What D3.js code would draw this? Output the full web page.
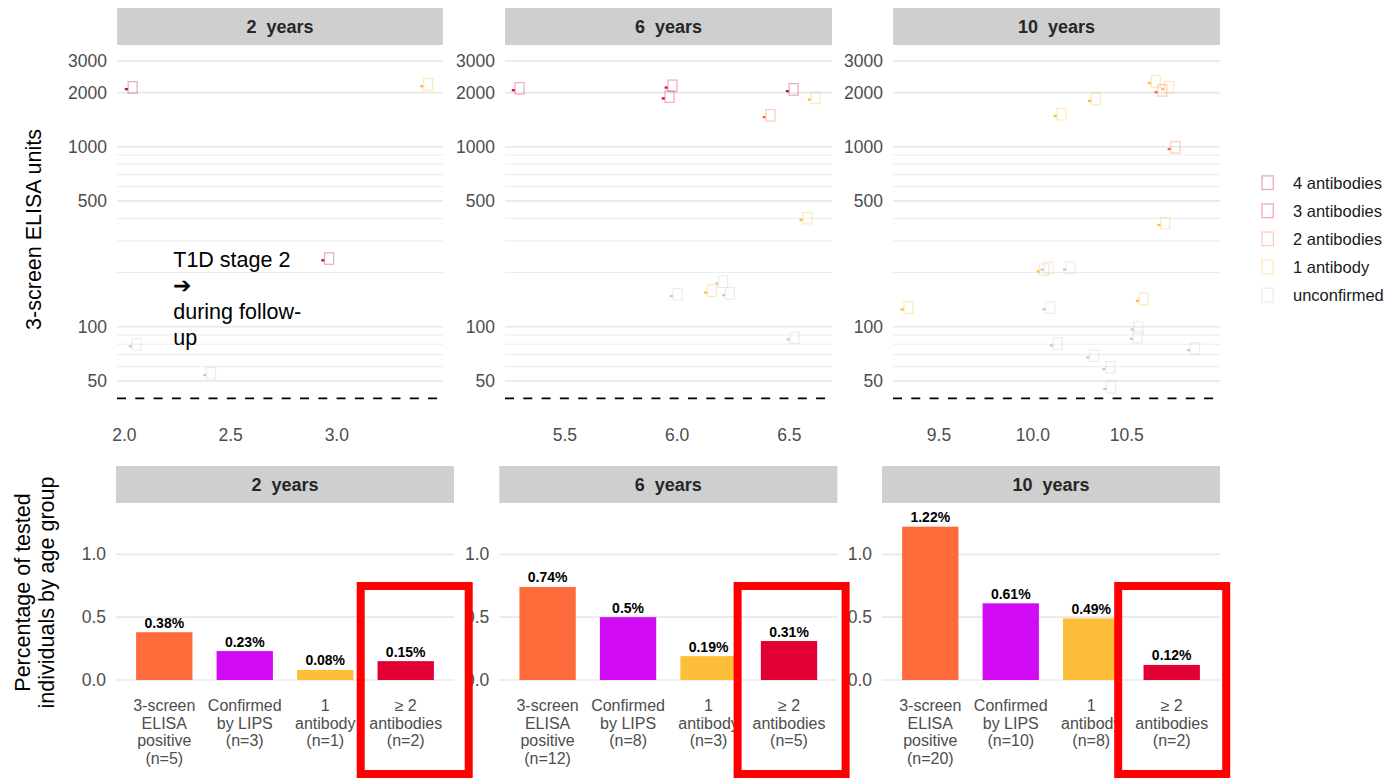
<!DOCTYPE html>
<html>
<head>
<meta charset="utf-8">
<script src="https://cdn.jsdelivr.net/npm/d3@7"></script>
<style>
  html, body { margin: 0; padding: 0; background: #fff; }
  svg { display: block; font-family: "Liberation Sans", Arial, sans-serif; }
</style>
</head>
<body>
<svg id="chart" width="1387" height="779"></svg>
<script>
// ---- Data -------------------------------------------------------------
const ageGroups = ["2  years", "6  years", "10  years"];

// 3-screen ELISA positives: age at sampling, ELISA units, confirmation group
const age2y   = [2.009, 2.028, 2.378, 2.934, 3.40];
const elisa2y = [2090, 78, 54, 234, 2170];
const group2y = ["4 antibodies", "unconfirmed", "unconfirmed", "4 antibodies", "1 antibody"];

const age6y   = [5.27, 5.951, 5.938, 6.491, 6.589, 6.388, 6.552, 5.974, 6.127, 6.177, 6.207, 6.495];
const elisa6y = [2062, 2131, 1857, 2036, 1829, 1461, 392, 148, 155, 174, 150, 85];
const group6y = ["3 antibodies", "3 antibodies", "3 antibodies", "4 antibodies", "1 antibody", "2 antibodies",
                 "1 antibody", "unconfirmed", "1 antibody", "unconfirmed", "unconfirmed", "unconfirmed"];

const age10y   = [9.304, 10.119, 10.302, 10.621, 10.656, 10.692, 10.726, 10.672, 10.027, 10.05,
                  10.168, 10.557, 10.059, 10.529, 10.525, 10.099, 10.83, 10.293, 10.378, 10.383];
const elisa10y = [125, 1484, 1800, 2255, 2010, 2096, 971, 368, 203, 208,
                  208, 139.5, 125, 96.7, 85.8, 78.8, 74.2, 67.6, 58.2, 45.2];
const group10y = ["1 antibody", "1 antibody", "1 antibody", "1 antibody", "2 antibodies", "1 antibody",
                  "2 antibodies", "1 antibody", "1 antibody", "unconfirmed", "unconfirmed", "1 antibody",
                  "unconfirmed", "unconfirmed", "unconfirmed", "unconfirmed", "unconfirmed", "unconfirmed",
                  "unconfirmed", "unconfirmed"];

const elisaThreshold = 40;
const ageTicks = [[2.0, 2.5, 3.0], [5.5, 6.0, 6.5], [9.5, 10.0, 10.5]];
const ageDomains = [[1.965, 3.50], [5.233, 6.69], [9.255, 10.997]];
const elisaTicks = [50, 100, 500, 1000, 2000, 3000];
const elisaMinor = [60, 70, 80, 90, 200, 300, 400, 600, 700, 800, 900];

const antibodyGroups = ["4 antibodies", "3 antibodies", "2 antibodies", "1 antibody", "unconfirmed"];
const antibodyColors = ["#B3123F", "#E8003D", "#FF6B3B", "#FDBF3A", "#C8C8C8"];

// Percentages of tested individuals per age group
const categories = ["3-screen ELISA positive", "Confirmed by LIPS", "1 antibody", "\u2265 2 antibodies"];
const categoryLines = [["3-screen", "ELISA", "positive"], ["Confirmed", "by LIPS"], ["1", "antibody"], ["\u2265 2", "antibodies"]];
const pct2y  = [0.38, 0.23, 0.08, 0.15];
const pct6y  = [0.74, 0.5, 0.19, 0.31];
const pct10y = [1.22, 0.61, 0.49, 0.12];
const n2y  = [5, 3, 1, 2];
const n6y  = [12, 8, 3, 5];
const n10y = [20, 10, 8, 2];
const barColors = ["#FF6B3B", "#D10CF5", "#FDBF3A", "#E00034"];
const pctTicks = [0, 0.5, 1.0];

// ---- Layout -----------------------------------------------------------
const svg = d3.select("#chart");
const topPanels = [[117, 443], [505, 832], [893, 1220]];
const botPanels = [[116, 454], [499.3, 837.3], [882, 1220]];
const topY = [45, 406], topStrip = [8, 45];
const botY = [503, 688], botStrip = [466, 503];
const tickFont = 17.5, tickColor = "#4d4d4d";

const color = d3.scaleOrdinal().domain(antibodyGroups).range(antibodyColors);
const yLog = d3.scaleLog().domain([36.3, 3673]).range([topY[1], topY[0]]);
const yPct = d3.scaleLinear().domain([-0.0636, 1.408]).range([botY[1], botY[0]]);

const scatterData = [
  d3.zip(age2y, elisa2y, group2y),
  d3.zip(age6y, elisa6y, group6y),
  d3.zip(age10y, elisa10y, group10y)
];
const barData = [[pct2y, n2y], [pct6y, n6y], [pct10y, n10y]];

function strip(x0, x1, y0, y1, label) {
  svg.append("rect").attr("x", x0).attr("y", y0).attr("width", x1 - x0).attr("height", y1 - y0)
    .attr("fill", "#cfcfcf");
  svg.append("text").attr("x", (x0 + x1) / 2).attr("y", (y0 + y1) / 2)
    .attr("text-anchor", "middle").attr("dominant-baseline", "central")
    .style("white-space", "pre")
    .attr("font-size", 18).attr("font-weight", "bold").attr("fill", "#262626")
    .text(label);
}

// ---- Top row: ELISA units by age -------------------------------------
topPanels.forEach(([x0, x1], i) => {
  strip(x0, x1, topStrip[0], topStrip[1], ageGroups[i]);
  const x = d3.scaleLinear().domain(ageDomains[i]).range([x0, x1]);
  const g = svg.append("g");

  g.selectAll("line.minor").data(elisaMinor).join("line")
    .attr("x1", x0).attr("x2", x1).attr("y1", d => yLog(d)).attr("y2", d => yLog(d))
    .attr("stroke", "#ebebeb").attr("stroke-width", 1);
  g.selectAll("line.major").data(elisaTicks).join("line")
    .attr("x1", x0).attr("x2", x1).attr("y1", d => yLog(d)).attr("y2", d => yLog(d))
    .attr("stroke", "#e8e8e8").attr("stroke-width", 1.7);

  g.selectAll("text.yt").data(elisaTicks).join("text")
    .attr("x", x0 - 10).attr("y", d => yLog(d)).attr("text-anchor", "end")
    .attr("dominant-baseline", "central").attr("font-size", tickFont).attr("fill", tickColor)
    .text(d => d);
  g.selectAll("text.xt").data(ageTicks[i]).join("text")
    .attr("x", d => x(d)).attr("y", 435).attr("text-anchor", "middle")
    .attr("dominant-baseline", "central").attr("font-size", tickFont).attr("fill", tickColor)
    .text(d => d.toFixed(1));

  g.append("line").attr("x1", x0).attr("x2", x1)
    .attr("y1", yLog(elisaThreshold)).attr("y2", yLog(elisaThreshold))
    .attr("stroke", "#000").attr("stroke-width", 1.8).attr("stroke-dasharray", "9,9.3");

  const pts = scatterData[i];
  g.selectAll("rect.dot").data(pts).join("rect")
    .attr("x", d => x(d[0]) - 1.5).attr("y", d => yLog(d[1]) - 1.1)
    .attr("width", 3).attr("height", 2.3)
    .attr("fill", d => color(d[2]));
  g.selectAll("rect.box").data(pts).join("rect")
    .attr("x", d => x(d[0]) + 1.8).attr("y", d => yLog(d[1]) - 7.5)
    .attr("width", 9).attr("height", 11.5)
    .attr("fill", "none").attr("stroke", d => color(d[2]))
    .attr("stroke-opacity", 0.35).attr("stroke-width", 1.2);

  if (i === 0) {
    const note = ["T1D stage 2", "\u2794", "during follow-", "up"];
    const nx = x(2.23), ny = yLog(234);
    g.selectAll("text.note").data(note).join("text")
      .attr("x", nx).attr("y", (d, k) => ny + k * 26)
      .attr("dominant-baseline", "central").attr("font-size", 21.5).attr("fill", "#000")
      .text(d => d);
  }
});

svg.append("text")
  .attr("transform", `translate(41, ${(topY[0] + topY[1]) / 2 + 4}) rotate(-90)`)
  .attr("text-anchor", "middle").attr("font-size", 21.5).attr("fill", "#000")
  .text("3-screen ELISA units");

// Legend
const legend = svg.append("g");
antibodyGroups.forEach((grp, k) => {
  const cy = 182.7 + k * 28.1;
  legend.append("rect").attr("x", 1262).attr("y", cy - 6.8).attr("width", 11.3).attr("height", 13.6)
    .attr("fill", "none").attr("stroke", color(grp)).attr("stroke-opacity", 0.35).attr("stroke-width", 1.3);
  legend.append("text").attr("x", 1293).attr("y", cy).attr("dominant-baseline", "central")
    .attr("font-size", 16.5).attr("fill", "#1a1a1a").text(grp);
});

// ---- Bottom row: percentage of tested individuals ---------------------
const boxOffsets = [9, 2.6, 0.5];
const boxes = [];
botPanels.forEach(([x0, x1], i) => {
  strip(x0, x1, botStrip[0], botStrip[1], ageGroups[i]);
  const x = d3.scaleBand().domain(categories).range([x0, x1]).paddingInner(0.3).paddingOuter(0.25);
  const g = svg.append("g");
  const [vals, ns] = barData[i];
  const rows = categories.map((c, k) => ({ c, v: vals[k], n: ns[k], col: barColors[k], lines: categoryLines[k] }));

  g.selectAll("line.grid").data(pctTicks).join("line")
    .attr("x1", x0).attr("x2", x1).attr("y1", d => yPct(d)).attr("y2", d => yPct(d))
    .attr("stroke", "#e8e8e8").attr("stroke-width", 1.7);
  g.selectAll("text.yt").data(pctTicks).join("text")
    .attr("x", x0 - 10).attr("y", d => yPct(d)).attr("text-anchor", "end")
    .attr("dominant-baseline", "central").attr("font-size", tickFont).attr("fill", tickColor)
    .text(d => d.toFixed(1));

  g.selectAll("rect.bar").data(rows).join("rect")
    .attr("x", d => x(d.c)).attr("width", x.bandwidth())
    .attr("y", d => yPct(d.v)).attr("height", d => yPct(0) - yPct(d.v))
    .attr("fill", d => d.col);
  g.selectAll("text.val").data(rows).join("text")
    .attr("x", d => x(d.c) + x.bandwidth() / 2).attr("y", d => yPct(d.v) - 4.5)
    .attr("text-anchor", "middle").attr("font-size", 14).attr("font-weight", "bold").attr("fill", "#000")
    .text(d => d.v + "%");

  rows.forEach(r => {
    const lines = r.lines.concat([`(n=${r.n})`]);
    g.append("g").selectAll("text").data(lines).join("text")
      .attr("x", x(r.c) + x.bandwidth() / 2).attr("y", (d, k) => 705.7 + k * 17.5)
      .attr("text-anchor", "middle").attr("dominant-baseline", "central")
      .attr("font-size", 16).attr("fill", tickColor).text(d => d);
  });

  boxes.push(x(categories[3]) + x.bandwidth() / 2 + boxOffsets[i]);
});

svg.append("text")
  .attr("transform", `translate(30, ${(botY[0] + botY[1]) / 2 - 3}) rotate(-90)`)
  .attr("text-anchor", "middle").attr("font-size", 21.5).attr("fill", "#000")
  .call(t => {
    t.append("tspan").attr("x", 0).attr("dy", 0).text("Percentage of tested");
    t.append("tspan").attr("x", 0).attr("dy", 24).text("individuals by age group");
  });

// Highlight boxes around the multiple-antibody category
svg.selectAll("rect.highlight").data(boxes).join("rect")
  .attr("x", d => d - 54).attr("y", 586).attr("width", 108).attr("height", 188)
  .attr("fill", "none").attr("stroke", "#FF0000").attr("stroke-width", 8);
</script>
</body>
</html>
